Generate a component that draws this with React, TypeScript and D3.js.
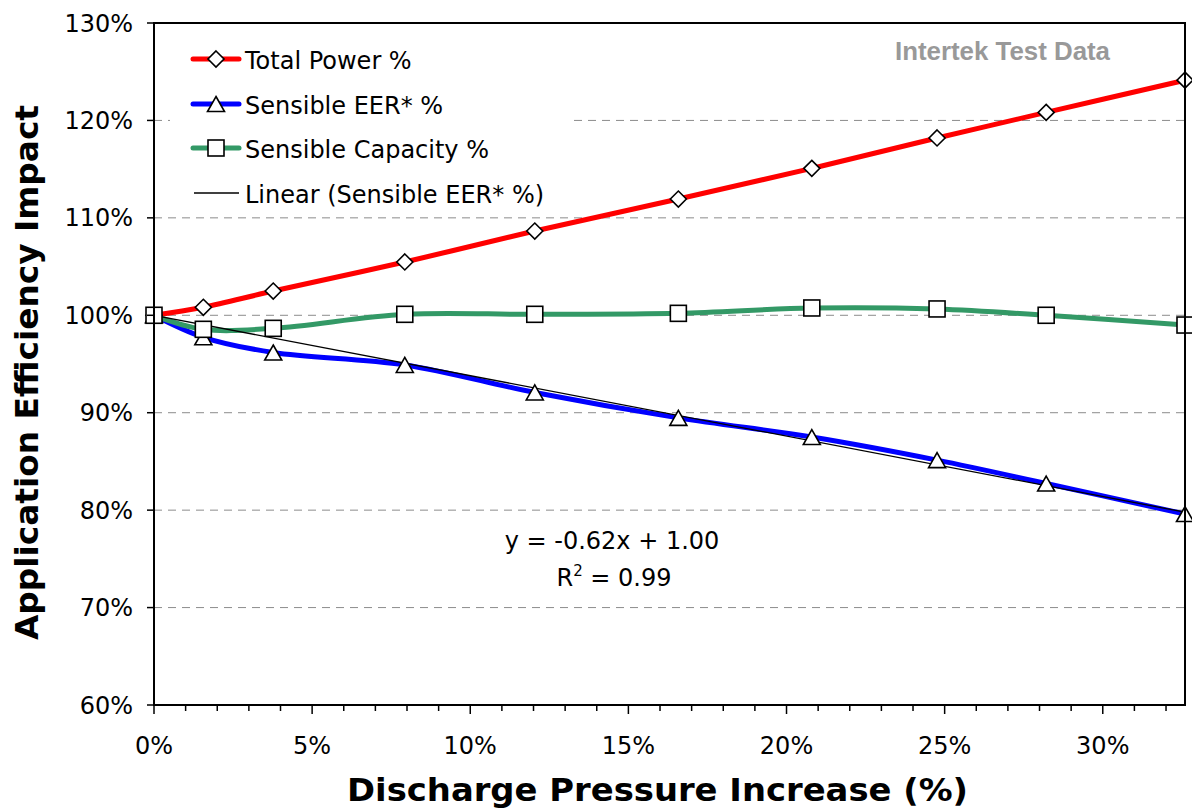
import React from "react";
import * as d3 from "d3";

// ---- data (percent values) ----
const xValues = [0, 1.56, 3.77, 7.93, 12.04, 16.58, 20.8, 24.76, 28.21, 32.6];
const totalPower = [100, 100.82, 102.49, 105.47, 108.65, 111.93, 115.08, 118.2, 120.82, 124.13];
const sensibleEER = [100, 97.74, 96.18, 94.9, 92.08, 89.47, 87.5, 85.13, 82.73, 79.6];
const sensibleCapacity = [100, 98.56, 98.66, 100.1, 100.1, 100.2, 100.75, 100.65, 100.0, 99.0];
const yTicks = [60, 70, 80, 90, 100, 110, 120, 130];
const xTicks = [0, 5, 10, 15, 20, 25, 30];
const xMinorTicks = d3.range(0, 33, 1);
const trendSlope = -0.62;
const trendIntercept = 1.0;
const legendLabels = ["Total Power %", "Sensible EER* %", "Sensible Capacity %", "Linear (Sensible EER* %)"];

const W = 1192;
const H = 811;
const L = 154, R = 1185, T = 23, B = 705;

const FONT = "'DejaVu Sans', Verdana, sans-serif";

function Marker({ type, x, y }: { type: string; x: number; y: number }) {
  const s = 8;
  if (type === "diamond") {
    return (
      <path
        d={`M${x},${y - s} L${x + s},${y} L${x},${y + s} L${x - s},${y} Z`}
        fill="#fff"
        stroke="#000"
        strokeWidth={1.6}
      />
    );
  }
  if (type === "triangle") {
    return (
      <path
        d={`M${x},${y - 7.5} L${x + 8.5},${y + 7.5} L${x - 8.5},${y + 7.5} Z`}
        fill="#fff"
        stroke="#000"
        strokeWidth={1.6}
      />
    );
  }
  return <rect x={x - s} y={y - s} width={2 * s} height={2 * s} fill="#fff" stroke="#000" strokeWidth={1.6} />;
}

export default function App() {
  const x = d3.scaleLinear().domain([0, xValues[xValues.length - 1]]).range([L, R]);
  const y = d3.scaleLinear().domain([60, 130]).range([B, T]);

  const line = d3
    .line<[number, number]>()
    .x((d) => x(d[0]))
    .y((d) => y(d[1]))
    .curve(d3.curveCatmullRom.alpha(0.5));

  const series = [
    { name: legendLabels[0], values: totalPower, color: "#FF0000", marker: "diamond" },
    { name: legendLabels[1], values: sensibleEER, color: "#0000FF", marker: "triangle" },
    { name: legendLabels[2], values: sensibleCapacity, color: "#339966", marker: "square" },
  ];

  const xEnd = xValues[xValues.length - 1];
  const trend = [
    [0, (trendIntercept + trendSlope * 0) * 100],
    [xEnd, (trendIntercept + trendSlope * (xEnd / 100)) * 100],
  ] as [number, number][];

  const legendRows = [59, 104, 148, 193];

  return (
    <svg width={W} height={H} style={{ position: "absolute", left: 0, top: 0, background: "#fff" }} fontFamily={FONT}>
      <rect x={0} y={0} width={W} height={H} fill="#fff" />
      {/* gridlines */}
      {yTicks
        .filter((t) => t > 60 && t < 130)
        .map((t) => (
          <line key={t} x1={L} x2={R} y1={y(t)} y2={y(t)} stroke="#8c8c8c" strokeWidth={1} strokeDasharray="8,6" />
        ))}

      {/* legend background */}
      <rect x={170} y={36} width={398} height={174} fill="#fff" />

      {/* series lines */}
      {series.map((s) => (
        <path
          key={s.name}
          d={line(xValues.map((v, i) => [v, s.values[i]] as [number, number])) || ""}
          fill="none"
          stroke={s.color}
          strokeWidth={5}
          strokeLinejoin="round"
        />
      ))}
      {/* trendline */}
      <line x1={x(trend[0][0])} y1={y(trend[0][1])} x2={x(trend[1][0])} y2={y(trend[1][1])} stroke="#000" strokeWidth={1.3} />

      {/* markers */}
      {series.map((s) =>
        xValues.map((v, i) => <Marker key={s.name + i} type={s.marker} x={x(v)} y={y(s.values[i])} />)
      )}

      {/* frame */}
      <rect x={L} y={T} width={R - L} height={B - T} fill="none" stroke="#000" strokeWidth={2} />

      {/* y ticks */}
      {yTicks.map((t) => (
        <g key={t}>
          <line x1={L - 7} x2={L} y1={y(t)} y2={y(t)} stroke="#000" strokeWidth={1.5} />
          <text x={133} y={y(t)} dy="0.36em" textAnchor="end" fontSize={24} fill="#000">
            {t}%
          </text>
        </g>
      ))}
      {/* x ticks */}
      {xMinorTicks.map((t) => (
        <line
          key={"m" + t}
          x1={x(t)}
          x2={x(t)}
          y1={B}
          y2={B + (t % 5 === 0 ? 9 : 6)}
          stroke="#000"
          strokeWidth={1.5}
        />
      ))}
      {xTicks.map((t) => (
        <text key={t} x={x(t)} y={754} textAnchor="middle" fontSize={24} fill="#000">
          {t}%
        </text>
      ))}

      {/* axis titles */}
      <text x={657.5} y={801} textAnchor="middle" fontSize={32} fontWeight="bold" textLength={621} lengthAdjust="spacingAndGlyphs">
        Discharge Pressure Increase (%)
      </text>
      <text
        transform={`translate(38,372.5) rotate(-90)`}
        textAnchor="middle"
        fontSize={32}
        fontWeight="bold"
        textLength={535}
        lengthAdjust="spacingAndGlyphs"
      >
        Application Efficiency Impact
      </text>

      {/* watermark */}
      <text x={895} y={60} fontSize={25} fontWeight="bold" fill="#999999" fontFamily="'Liberation Sans', Arial, sans-serif" textLength={215} lengthAdjust="spacingAndGlyphs">
        Intertek Test Data
      </text>

      {/* legend */}
      {series.map((s, i) => (
        <g key={"lg" + i}>
          <line x1={193} x2={239} y1={legendRows[i]} y2={legendRows[i]} stroke={s.color} strokeWidth={5} strokeLinecap="round" />
          <Marker type={s.marker} x={216} y={legendRows[i]} />
          <text x={245} y={legendRows[i] + 10} fontSize={24}>
            {s.name}
          </text>
        </g>
      ))}
      <line x1={194} x2={239} y1={legendRows[3]} y2={legendRows[3]} stroke="#000" strokeWidth={1.3} />
      <text x={245} y={legendRows[3] + 10} fontSize={24}>
        {legendLabels[3]}
      </text>

      {/* equation */}
      <text x={612} y={549} textAnchor="middle" fontSize={24}>
        y = -0.62x + 1.00
      </text>
      <text x={614} y={586} textAnchor="middle" fontSize={24}>
        R<tspan dy={-10} fontSize={15}>2</tspan>
        <tspan dy={10}> = 0.99</tspan>
      </text>
    </svg>
  );
}
